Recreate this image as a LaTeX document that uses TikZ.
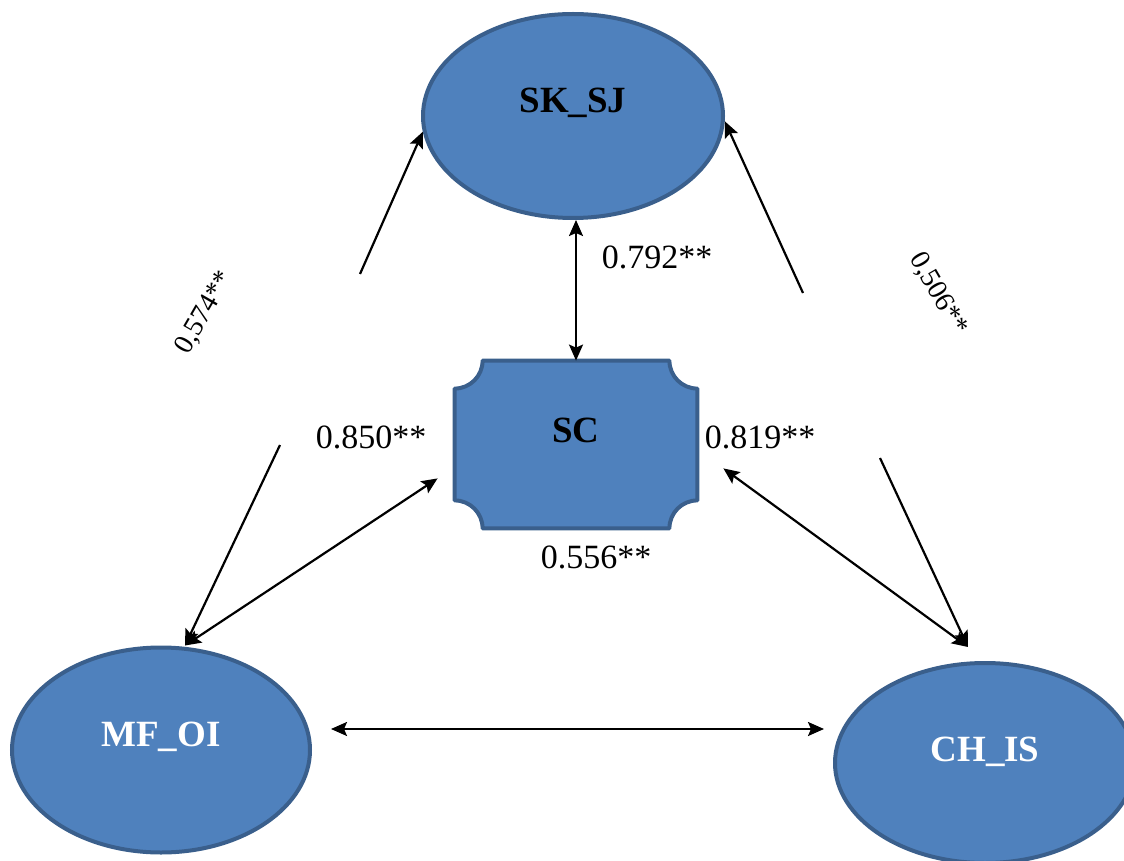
\documentclass[tikz,border=0pt]{standalone}
\usepackage{fontspec}
\setmainfont{Liberation Serif}
\usetikzlibrary{shapes.geometric,arrows.meta,calc}
\definecolor{nodefill}{HTML}{4F81BD}
\definecolor{nodeline}{HTML}{3A5F8C}
\tikzset{
  latent/.style={ellipse, fill=nodefill, draw=nodeline, line width=2pt, inner sep=0pt},
  boxlabel/.style={font=\fontsize{18.5}{22}\selectfont\bfseries},
  coef/.style={font=\fontsize{17}{20}\selectfont},
  coefsmall/.style={font=\fontsize{14}{16}\selectfont},
  arr/.style={-{Stealth[length=8pt,width=7pt,inset=1.5pt]}, line width=1.1pt},
  dbl/.style={{Stealth[length=8pt,width=7pt,inset=1.5pt]}-{Stealth[length=8pt,width=7pt,inset=1.5pt]}, line width=1.1pt},
}

\begin{document}
\begin{tikzpicture}[x=0.5pt,y=-0.5pt]
    \useasboundingbox (0,0) rectangle (1124,861);
    \clip (0,0) rectangle (1124,861);

    \node[latent, minimum width=150pt, minimum height=102pt,
          label={[boxlabel, yshift=6.5pt]center:SK\_SJ}] (sksj) at (573,116) {};
    \node[latent, minimum width=149pt, minimum height=102.5pt,
          label={[boxlabel, text=white, yshift=6.5pt]center:MF\_OI}] (mfoi) at (161,750) {};
    \node[latent, minimum width=150pt, minimum height=100pt,
          label={[boxlabel, text=white, yshift=5.5pt]center:CH\_IS}] (chis) at (985,763) {};

    \node[minimum width=121pt, minimum height=83.5pt, inner sep=0pt] (sc) at (576,444.5) {};
    \filldraw[fill=nodefill, draw=nodeline, line width=2pt, line join=round]
        ($(sc.north west)+(14pt,0)$) -- ($(sc.north east)+(-14pt,0)$)
        .. controls ($(sc.north east)+(-14pt,-7.73pt)$) and ($(sc.north east)+(-7.73pt,-14pt)$) .. ($(sc.north east)+(0,-14pt)$)
        -- ($(sc.south east)+(0,14pt)$)
        .. controls ($(sc.south east)+(-7.73pt,14pt)$) and ($(sc.south east)+(-14pt,7.73pt)$) .. ($(sc.south east)+(-14pt,0)$)
        -- ($(sc.south west)+(14pt,0)$)
        .. controls ($(sc.south west)+(14pt,7.73pt)$) and ($(sc.south west)+(7.73pt,14pt)$) .. ($(sc.south west)+(0,14pt)$)
        -- ($(sc.north west)+(0,-14pt)$)
        .. controls ($(sc.north west)+(7.73pt,-14pt)$) and ($(sc.north west)+(14pt,-7.73pt)$) .. cycle;
    \node[boxlabel] (sctext) at ([yshift=7pt]sc.center) {SC};

    \coordinate (mftip) at ($(mfoi.north)+(12pt,0)$);
    \coordinate (chtip) at ($(chis.north)+(-8.5pt,7pt)$);
    \coordinate (a574) at (360,274);
    \coordinate (b574) at (280,445);
    \coordinate (a506) at (803,293);
    \coordinate (b506) at (880,458);

    \draw[arr] (a574) -- (sksj.186);
    \draw[arr] (b574) -- (mftip);
    \draw[arr] (a506) -- (sksj.358);
    \draw[arr] (b506) -- (chtip);

    \draw[dbl] (sc.north) -- (sc.north |- sksj.south);
    \draw[dbl] ($(sc.south west)+(-8.5pt,25pt)$) -- (mftip);
    \draw[dbl] ($(sc.south east)+(13pt,30pt)$) -- (chtip);
    \draw[dbl] ($(mfoi.east)+(9.5pt,10.5pt)$) -- ++(493,0);

    \node[coef] (c792) at (657,257) {0.792**};
    \node[coef] (c850) at (371,437) {0.850**};
    \node[coef] (c819) at (760,437) {0.819**};
    \node[coef] (c556) at (596,557) {0.556**};
    \node[coefsmall, rotate=60] (c574) at (205,313) {0,574**};
    \node[coefsmall, rotate=-60] (c506) at (938,294) {0,506**};

\end{tikzpicture}
\end{document}
